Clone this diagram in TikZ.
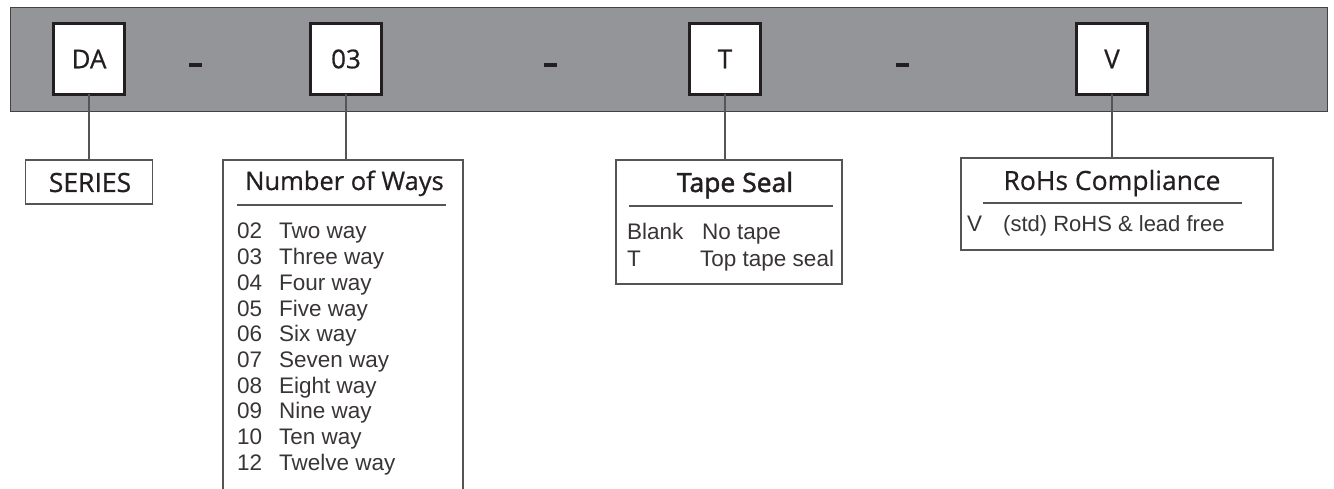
\documentclass[tikz,border=0pt]{standalone}
\usepackage{fontspec}
\setmainfont{Liberation Sans}
\newfontfamily\hdr[FakeBold=0.6]{Open Sans}
\newfontfamily\hdrb[FakeBold=1.8]{Open Sans}
\definecolor{band}{HTML}{939598}
\definecolor{ink}{HTML}{231F20}
\definecolor{edge}{HTML}{555555}
\begin{document}
\begin{tikzpicture}[x=1pt,y=-1pt,
  codebox/.style={draw=ink,line width=3pt,fill=white,minimum size=71pt,inner sep=0pt,outer sep=0pt,text=ink,font=\hdr\fontsize{26}{30}\selectfont},
  dashmark/.style={fill=ink,minimum width=13pt,minimum height=4pt,inner sep=0pt},
  descbox/.style={draw=edge,line width=1.3pt,fill=white,inner sep=0pt,outer sep=0pt},
  conn/.style={draw=edge,line width=1.3pt},
  rulel/.style={draw=edge,line width=1.2pt},
  hdrtext/.style={text=ink,font=\hdr\fontsize{26}{30}\selectfont,inner sep=0pt},
  listtext/.style={text=ink!90,font=\fontsize{22.5}{26}\selectfont,inner sep=0pt,anchor=base west}]
\useasboundingbox (0,0) rectangle (1334,489);
% band
\node[fill=band,draw=ink!85,line width=1.3pt,minimum width=1317pt,minimum height=104pt,inner sep=0pt,anchor=north west] (band) at (10,7) {};
% code boxes
\node[codebox] (da) at (89,59) {DA};
\node[codebox] (n03) at (346,59) {03};
\node[codebox] (tt) at (725,59) {T};
\node[codebox] (vv) at (1112,59) {V};
% dashes
\node[dashmark] (d1) at (195,65) {};
\node[dashmark] (d2) at (550,65) {};
\node[dashmark] (d3) at (902,65) {};
% SERIES
\node[descbox,minimum width=127pt,minimum height=44pt] (series) at (89,182) {};
\node[hdrtext,anchor=base,font=\hdr\fontsize{26.5}{30}\selectfont] (seriest) at (90,192) {SERIES};
\draw[conn] (da.south) -- (series.north);
% Number of ways (open bottom)
\node[minimum width=240pt,minimum height=340pt,inner sep=0pt,outer sep=0pt,anchor=north west] (ways) at (223,160) {};
\draw[conn] (ways.south west) -- (ways.north west) -- (ways.north east) -- (ways.south east);
\draw[conn] (n03.south) -- (n03.south |- ways.north);
\node[hdrtext,anchor=base,font=\hdr\fontsize{25.5}{30}\selectfont] (waysh) at (344.5,190) {Number of Ways};
\draw[rulel] (237,205) -- (446,205);
\foreach \n/\w [count=\i from 0] in {02/Two way,03/Three way,04/Four way,05/Five way,06/Six way,07/Seven way,08/Eight way,09/Nine way,10/Ten way,12/Twelve way}{
  \node[listtext] (wn\i) at (237,239+25.7*\i) {\n};
  \node[listtext] (ww\i) at (279,239+25.7*\i) {\w};
}
% Tape seal
\node[descbox,minimum width=226pt,minimum height=124pt] (tape) at (729,222) {};
\draw[conn] (tt.south) -- (tt.south |- tape.north);
\node[hdrtext,anchor=base,font=\hdrb\fontsize{26.5}{30}\selectfont] (tapeh) at (735,192) {Tape Seal};
\draw[rulel] (629,206) -- (833,206);
\node[listtext] (tb) at (627,240) {Blank};
\node[listtext] (tbn) at (702,240) {No tape};
\node[listtext] (tt1) at (627,267) {T};
\node[listtext] (tt2) at (700,267) {Top tape seal};
% RoHS
\node[descbox,minimum width=312pt,minimum height=92pt] (rohs) at (1117,204) {};
\draw[conn] (vv.south) -- (vv.south |- rohs.north);
\node[hdrtext,anchor=base,font=\hdr\fontsize{26.5}{30}\selectfont] (rohsh) at (1112,190) {RoHs Compliance};
\draw[rulel] (983,203) -- (1242,203);
\node[listtext] (rv) at (967,232) {V};
\node[listtext,font=\fontsize{22}{26}\selectfont] (rvt) at (1003,232) {(std) RoHS \& lead free};
\end{tikzpicture}
\end{document}
